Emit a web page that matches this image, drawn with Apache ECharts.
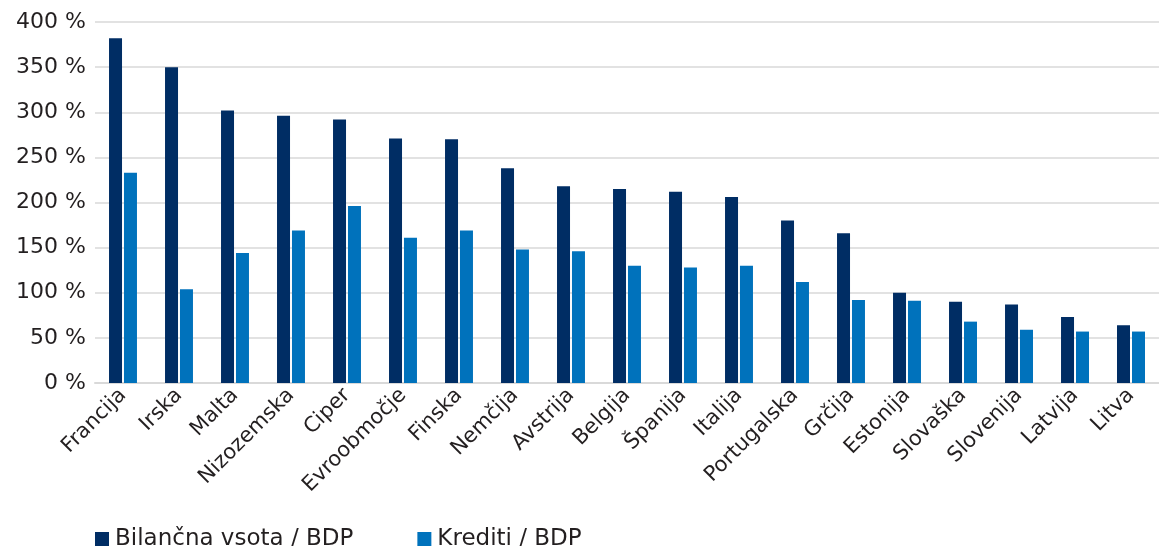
<!DOCTYPE html>
<html>
<head>
<meta charset="utf-8">
<script src="https://cdn.jsdelivr.net/npm/echarts@6/dist/echarts.min.js"></script>
<style>
html,body{margin:0;padding:0;background:#fff;}
#chart{width:1159px;height:546px;}
</style>
</head>
<body>
<div id="chart"></div>
<script>
const categories = ['Francija','Irska','Malta','Nizozemska','Ciper','Evroobmočje','Finska','Nemčija','Avstrija','Belgija','Španija','Italija','Portugalska','Grčija','Estonija','Slovaška','Slovenija','Latvija','Litva'];
const bilancnaVsota = [382, 350, 302, 296, 292, 271, 270, 238, 218, 215, 212, 206, 180, 166, 100, 90, 87, 73, 64];
const krediti = [233, 104, 144, 169, 196, 161, 169, 148, 146, 130, 128, 130, 112, 92, 91, 68, 59, 57, 57];
const seriesNames = ['Bilančna vsota / BDP', 'Krediti / BDP'];
const yTicks = {min: 0, max: 400, interval: 50};

const FONT = 'DejaVu Sans';
const TXT = '#231f20';
const chart = echarts.init(document.getElementById('chart'), null, {renderer: 'canvas'});
chart.setOption({
  animation: false,
  backgroundColor: '#ffffff',
  textStyle: {fontFamily: FONT},
  grid: {left: 95, right: -11, top: 22, bottom: 163, containLabel: false},
  legend: {
    left: 95, top: 527, padding: 0,
    icon: 'rect', itemWidth: 14, itemHeight: 14, itemGap: 64,
    textStyle: {fontFamily: FONT, fontSize: 23, lineHeight: 24, color: TXT, padding: [0,0,0,1]},
    data: seriesNames
  },
  xAxis: {
    type: 'category',
    data: categories,
    axisTick: {show: false},
    axisLine: {lineStyle: {color: '#d9d9d9', width: 2}},
    axisLabel: {rotate: 45, interval: 0, fontFamily: FONT, fontSize: 21, color: TXT, margin: 9}
  },
  yAxis: {
    type: 'value',
    min: yTicks.min, max: yTicks.max, interval: yTicks.interval,
    axisLine: {show: false}, axisTick: {show: false},
    splitLine: {lineStyle: {color: '#d9d9d9', width: 1.5}},
    axisLabel: {formatter: '{value} %', fontFamily: FONT, fontSize: 22, color: TXT, margin: 9}
  },
  series: [
    {name: seriesNames[0], type: 'bar', data: bilancnaVsota, barWidth: 13, barGap: '15%', itemStyle: {color: '#002d64'}},
    {name: seriesNames[1], type: 'bar', data: krediti, barWidth: 13, barGap: '15%', itemStyle: {color: '#0072bc'}}
  ]
});
</script>
</body>
</html>
